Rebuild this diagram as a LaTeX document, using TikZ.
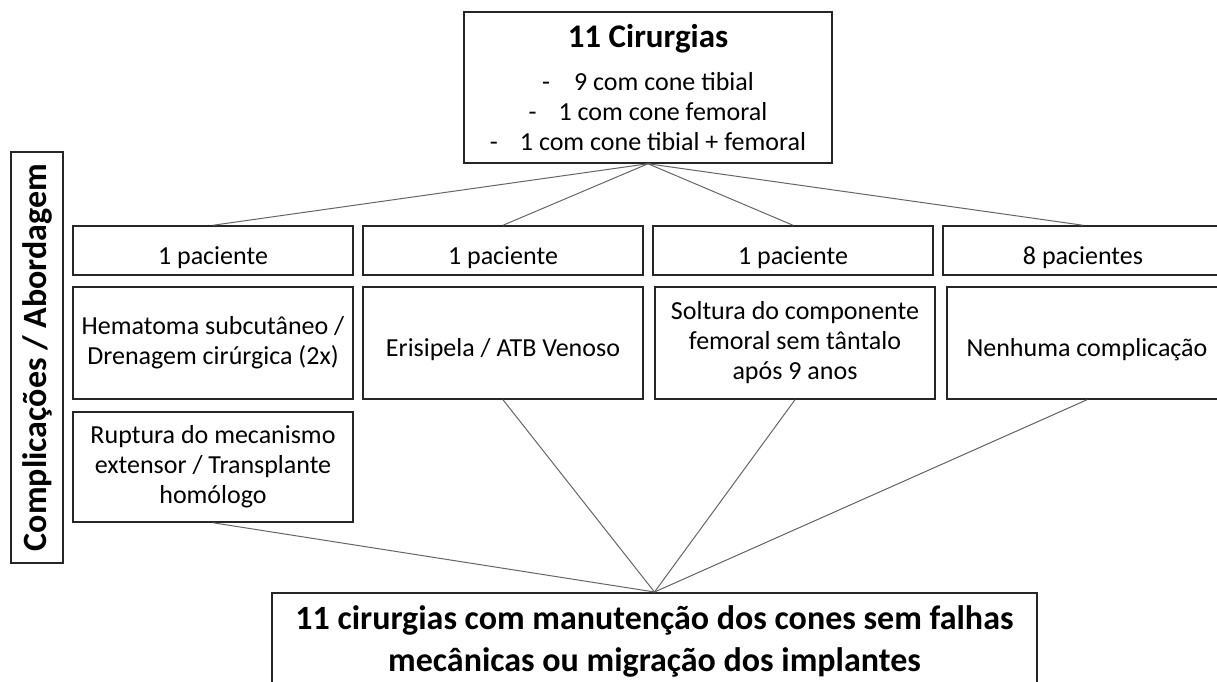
\documentclass[tikz,border=0pt]{standalone}
\usepackage{fontspec}
\setmainfont{Carlito}
\begin{document}
\begin{tikzpicture}[x=0.5pt, y=-0.5pt,
  caixa/.style={draw=black!85, line width=0.75pt, inner sep=0pt, align=center,
    font=\fontsize{13}{15}\selectfont},
  baixo/.style={execute at begin node={\rule{0pt}{16pt}}},
  liga/.style={draw=black!60, line width=0.5pt}]

\fill[white] (0,0) rectangle (1217,681);
\clip (0,0) rectangle (1217,681);

% topo
\node[caixa, minimum width=184pt, minimum height=75.5pt] (cirurgias) at (648,87.5)
  {{\bfseries\fontsize{16.5}{20}\selectfont 11 Cirurgias}\\[6.5pt]
   -\hspace{12pt}9 com cone tibial\\
   -\hspace{11pt}1 com cone femoral\\
   -\hspace{11pt}1 com cone tibial + femoral};

% eixo lateral
\node[caixa, rotate=90, minimum width=205.5pt, minimum height=26pt,
  font=\bfseries\fontsize{17}{20}\selectfont] (eixo) at (37,357.5) {Complicações / Abordagem};

% pacientes
\foreach \n/\x/\t in {1/213/1 paciente, 2/503/1 paciente, 3/793/1 paciente, 4/1083/8 pacientes}
  \node[caixa, baixo, minimum width=140pt, minimum height=24.5pt] (p\n) at (\x,250.5) {\t};

% complicacoes
\begin{scope}[every node/.style={caixa, baixo, minimum width=140pt, minimum height=56pt}]
\node (c1) at (213,343) {Hematoma subcutâneo /\\Drenagem cirúrgica (2x)};
\node (c2) at (503,343) {Erisipela / ATB Venoso};
\node (c3) at (795,343) {Soltura do componente\\femoral sem tântalo\\após 9 anos};
\node (c4) at (1087,343) {Nenhuma complicação};
\node[minimum height=55pt] (r1) at (213,467) {Ruptura do mecanismo\\extensor / Transplante\\homólogo};
\end{scope}

% resultado
\node[caixa, anchor=north, minimum width=382.5pt, minimum height=49pt,
  font=\bfseries\fontsize{17}{21}\selectfont] (final) at (654.5,592)
  {11 cirurgias com manutenção dos cones sem falhas\\mecânicas ou migração dos implantes};

\foreach \n in {1,...,4}
  \draw[liga] (cirurgias.south) -- (p\n.north);
\foreach \n in {c2,c3,c4,r1}
  \draw[liga] (\n.south) -- (final.north);
\end{tikzpicture}
\end{document}
